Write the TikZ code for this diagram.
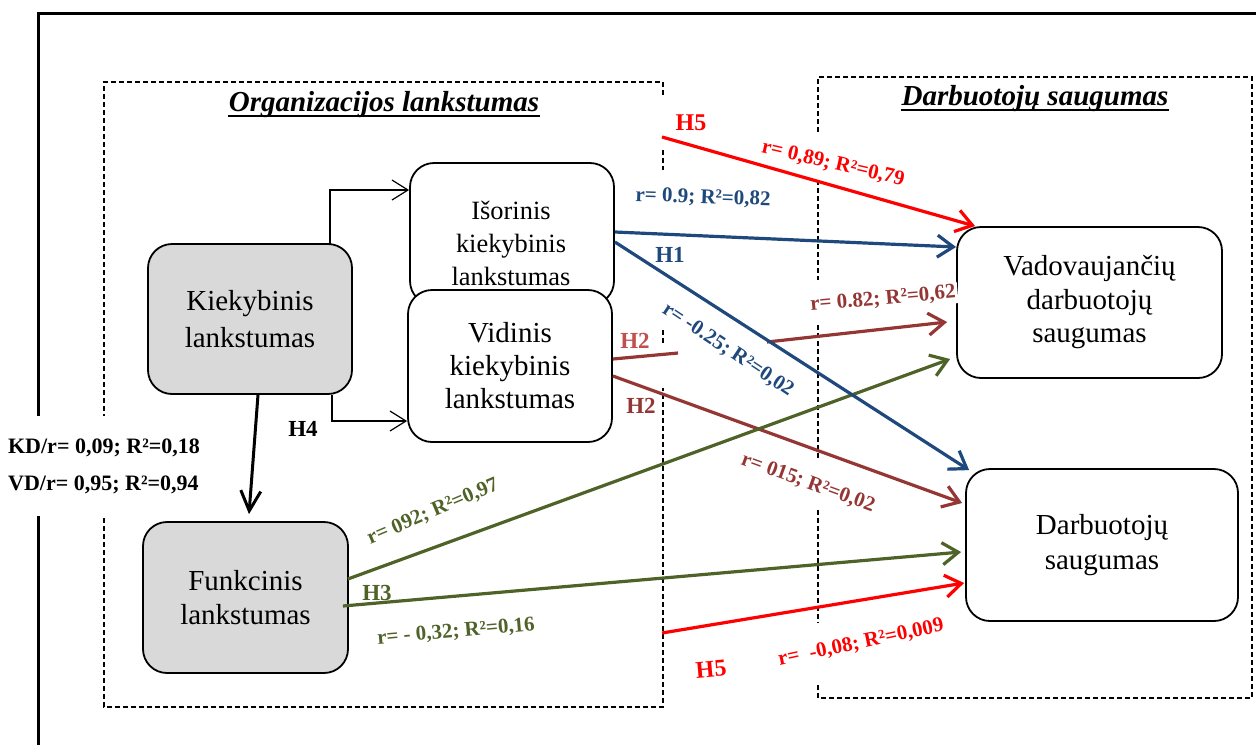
\documentclass[tikz,border=0pt]{standalone}
\usepackage{fontspec}
\setmainfont{Liberation Serif}
\usetikzlibrary{arrows.meta}
\definecolor{hblue}{HTML}{1F497D}
\definecolor{hdred}{HTML}{943634}
\definecolor{hlred}{HTML}{C0504D}
\definecolor{hgreen}{HTML}{4F6228}
\definecolor{hred}{HTML}{FF0000}
\definecolor{boxgray}{HTML}{D9D9D9}

\begin{document}
\begin{tikzpicture}[x=0.5pt,y=-0.5pt,
  frame/.style={line width=1.5pt},
  groupbox/.style={line width=1pt, dash pattern=on 2.5pt off 1.5pt},
  ulrule/.style={line width=1.2pt},
  ttl/.style={inner sep=0pt, font=\bfseries\itshape\fontsize{14.5}{17}\selectfont},
  block/.style={draw=black, line width=0.9pt, rounded corners=12pt, fill=white,
    inner sep=0pt, align=center, font=\fontsize{14.5}{17}\selectfont},
  grayblock/.style={block, fill=boxgray},
  blocktext/.style={inner sep=0pt, align=center},
  lbl/.style={inner sep=1pt, font=\bfseries\fontsize{10.5}{12}\selectfont},
  hyp/.style={inner sep=1pt, font=\bfseries\fontsize{11.5}{13}\selectfont},
  kdbox/.style={fill=white, align=left, inner xsep=5pt, inner ysep=11pt,
    font=\bfseries\fontsize{11}{18.5}\selectfont},
  link/.style={line width=1.6pt, -{Straight Barb[length=8pt,width=11pt]}},
  plainlink/.style={line width=1.6pt},
  thinlink/.style={line width=0.6pt, -{Straight Barb[length=8pt,width=10pt]}},
  boldlink/.style={line width=1.5pt, -{Straight Barb[length=10pt,width=10pt]}}
]
\useasboundingbox (0,0) rectangle (1256,745);

% outer frame
\draw[frame] (1256,13) -- (38,13) -- (38,745);

% group outlines, broken where labels sit over them
\draw[groupbox] (663,95) -- (663,82) -- (104,82) -- (104,707) -- (663,707) -- (663,388);
\draw[groupbox] (663,150) -- (663,170);
\draw[groupbox] (663,330) -- (663,345);
\draw[groupbox] (818,132) -- (818,77) -- (1252,77) -- (1252,698) -- (818,698) -- (818,685);
\draw[groupbox] (818,180) -- (818,280);
\draw[groupbox] (818,325) -- (818,458);
\draw[groupbox] (818,510) -- (818,623);

% group titles
\node[ttl, anchor=base] (ttlorg) at (384,111) {Organizacijos lankstumas};
\draw[ulrule] ([yshift=-2.5pt]ttlorg.base west) -- ([yshift=-2.5pt]ttlorg.base east);
\node[ttl, anchor=base] (ttlds) at (1035,105) {Darbuotojų saugumas};
\draw[ulrule] ([yshift=-2.5pt]ttlds.base west) -- ([yshift=-2.5pt]ttlds.base east);

% correlation of the two flexibility kinds
\node[kdbox] (kd) at (104,466) {KD/r= 0,09; R²=0,18\\VD/r= 0,95; R²=0,94};

% blocks
\node[grayblock, minimum width=102pt, minimum height=75pt,
      font=\fontsize{14.5}{18.5}\selectfont] (kie) at (250,319) {Kiekybinis\\lankstumas};
\node[block, minimum width=102pt, minimum height=71pt] (iso) at (512,234) {};
\node[blocktext, font=\fontsize{13.2}{16.5}\selectfont] (isot) at (511,243)
      {Išorinis\\kiekybinis\\lankstumas};
\node[block, minimum width=102pt, minimum height=76pt,
      font=\fontsize{14.5}{16.5}\selectfont] (vid) at (510,366) {Vidinis\\kiekybinis\\lankstumas};
\node[grayblock, minimum width=102.5pt, minimum height=75.5pt] (fun) at (245.5,597.5)
      {Funkcinis\\lankstumas};
\node[block, minimum width=132.5pt, minimum height=75.5pt,
      font=\fontsize{14.5}{16.75}\selectfont] (vad) at (1089.5,302.5)
      {Vadovaujančių\\darbuotojų\\saugumas};
\node[block, minimum width=136pt, minimum height=76pt,
      font=\fontsize{14.5}{17.5}\selectfont] (dar) at (1102,545) {Darbuotojų\\saugumas};

% black connectors
\draw[thinlink] (kie.north) -- ++(80,0) |- ([yshift=22pt]iso.west);
\draw[thinlink] ([xshift=-10.5pt]kie.south east) |- ([yshift=-27.5pt]vid.west);
\draw[boldlink] ([xshift=4pt]kie.south) -- ([xshift=1.75pt,yshift=3.5pt]fun.north);

% free ends and break points
\coordinate (h5start) at (662,137);
\coordinate (h5lowstart) at (662,633);
\coordinate (gapA) at (678,353);
\coordinate (gapB) at (767,342);

% colored hypothesis links
\draw[link, hred] (h5start) -- ([xshift=9.5pt]vad.north west);
\draw[link, hblue] ([yshift=1pt]iso.east) -- ([yshift=27.75pt]vad.west);
\draw[plainlink, hdred] ([yshift=3.5pt]vid.east) -- (gapA);
\draw[link, hdred] (gapB) -- ([xshift=-4.5pt,yshift=-9.75pt]vad.west);
\draw[link, hdred] ([yshift=-5pt]vid.east) -- ([xshift=-1.5pt,yshift=21pt]dar.west);
\draw[link, hgreen] ([xshift=-0.5pt,yshift=9.25pt]fun.east) -- ([xshift=-3pt,yshift=-28.25pt]vad.west);
\draw[link, hgreen] ([xshift=-3pt,yshift=-4.25pt]fun.east) -- ([xshift=-2pt,yshift=-3.5pt]dar.west);
\draw[link, hblue] ([yshift=-4pt]iso.east) -- ([xshift=2pt,yshift=-1pt]dar.north west);
\draw[link, hred] (h5lowstart) -- ([xshift=-0.5pt,yshift=-19pt]dar.west);

% labels
\node[hyp, text=hred, font=\bfseries\fontsize{12}{14}\selectfont] (h5t) at (691,123) {H5};
\node[lbl, text=hred, rotate=-13] (r089) at (833,164) {r= 0,89; R²=0,79};
\node[lbl, text=hblue, rotate=-2] (r09) at (703,198) {r= 0.9; R²=0,82};
\node[hyp, text=hblue] (h1) at (670,255) {H1};
\node[lbl, text=hblue, rotate=-33.5] (r025) at (728,350) {r= -0.25; R²=0,02};
\node[hyp, text=hlred] (h2up) at (635,341) {H2};
\node[lbl, text=hdred, rotate=5, fill=white] (r082) at (883,299) {r= 0.82; R²=0,62};
\node[hyp, text=hdred] (h2low) at (641,406) {H2};
\node[lbl, text=hdred, rotate=-20] (r015) at (808,483) {r= 015; R²=0,02};
\node[lbl, text=hgreen, rotate=23] (r092) at (433,512) {r= 092; R²=0,97};
\node[hyp, text=hgreen] (h3) at (377,593) {H3};
\node[lbl, text=hgreen, rotate=5] (r032) at (456,632) {r= - 0,32; R²=0,16};
\node[hyp, text=hred, rotate=5, font=\bfseries\fontsize{12}{14}\selectfont] (h5b) at (711,669) {H5};
\node[lbl, text=hred, rotate=12] (r008) at (861,643) {r=\enspace-0,08; R²=0,009};
\node[hyp] (h4) at (303,429) {H4};
\end{tikzpicture}
\end{document}
